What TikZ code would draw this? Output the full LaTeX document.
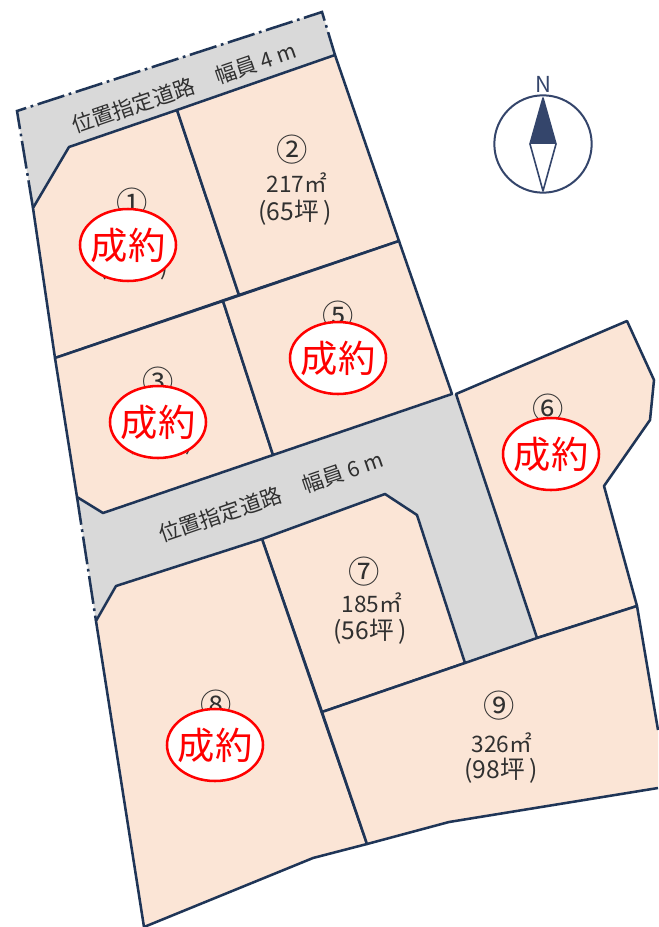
\documentclass[tikz,border=0pt]{standalone}
\usepackage{fontspec}
\setmainfont{Noto Sans CJK JP}
\definecolor{lotfill}{HTML}{FBE5D6}
\definecolor{roadfill}{HTML}{D9D9D9}
\definecolor{lineblue}{HTML}{1F3557}
\definecolor{compass}{HTML}{34456B}
\definecolor{txt}{HTML}{303030}
\usetikzlibrary{shapes.geometric}
\tikzset{
  lot/.style={fill=lotfill,draw=lineblue,line width=1.9pt,line join=round},
  road/.style={fill=roadfill,draw=none},
  edge/.style={draw=lineblue,line width=1.9pt,line join=round},
  roadedge/.style={draw=lineblue,line width=1.9pt,dash pattern=on 21pt off 3.5pt on 2pt off 3.5pt},
  lab/.style={text=txt,font=\fontsize{17pt}{20pt}\selectfont,inner sep=0pt},
  tsubo/.style={text=txt,font=\fontsize{18.5pt}{20pt}\selectfont,inner sep=0pt},
  num/.style={text=txt,font=\fontsize{23.5pt}{26pt}\selectfont,inner sep=0pt},
  roadlab/.style={text=txt,font=\fontsize{16pt}{18pt}\selectfont,inner sep=0pt},
  sold/.style={draw=red,line width=1.9pt,fill=white,ellipse,minimum width=72pt,minimum height=54pt,inner xsep=-6pt,inner ysep=-6pt,text=red,font=\fontsize{28pt}{30pt}\selectfont},
}
\begin{document}
\begin{tikzpicture}[x=0.75pt,y=-0.75pt]
\useasboundingbox (0,0) rectangle (658,927);
\fill[white] (0,0) rectangle (658,927);
% coordinates
\coordinate (tl) at (17,111);
\coordinate (tr) at (322,12);
\coordinate (a) at (335,55);
\coordinate (b) at (177,110);
\coordinate (c) at (69,147);
\coordinate (d) at (33,208);
\coordinate (e) at (399,241);
\coordinate (f) at (239,295);
\coordinate (g) at (55,358);
\coordinate (h) at (223,301);
\coordinate (i) at (452,394);
\coordinate (j) at (273,455);
\coordinate (k) at (103,513);
\coordinate (l) at (77,497);
\coordinate (m) at (537,638);
\coordinate (n) at (465,663);
\coordinate (o) at (417,515);
\coordinate (p) at (385,494);
\coordinate (q) at (262,539);
\coordinate (r) at (116,586);
\coordinate (s) at (96,621);
\coordinate (t) at (322,712);
\coordinate (u) at (367,844);
\coordinate (v) at (313,858);
\coordinate (w) at (144,927);
\coordinate (x1) at (456,394);
\coordinate (y1) at (627,321);
\coordinate (z1) at (654,380);
\coordinate (z2) at (650,420);
\coordinate (z3) at (604,486);
\coordinate (z4) at (637,606);
\coordinate (z5) at (658,730);
\coordinate (z6) at (658,788);
\coordinate (z7) at (449,822);
% roads
\path[road] (tl)--(tr)--(a)--(b)--(c)--(d)--cycle;
\path[road] (l)--(k)--(j)--(x1)--(m)--(n)--(o)--(p)--(q)--(r)--(s)--cycle;
% lots
\path[lot] (d)--(c)--(b)--(f)--(g)--cycle;
\path[lot] (b)--(a)--(e)--(f)--cycle;
\path[lot] (g)--(h)--(j)--(k)--(l)--cycle;
\path[lot] (h)--(e)--(i)--(j)--cycle;
\path[lot] (x1)--(y1)--(z1)--(z2)--(z3)--(z4)--(m)--cycle;
\path[lot] (q)--(p)--(o)--(n)--(t)--cycle;
\path[lot] (r)--(q)--(u)--(v)--(w)--(s)--cycle;
\fill[lotfill] (t)--(n)--(m)--(z4)--(z5)--(z6)--(z7)--(u)--cycle;
\draw[edge] (z6)--(z7)--(u)--(t)--(n)--(m)--(z4)--(z5);
% road outer borders
\draw[roadedge] (d)--(tl)--(tr)--(a);
\draw[roadedge] (l)--(s);
% labels
\node[roadlab,rotate=19] (road1) at (184,88) {位置指定道路\hspace{1.1em}幅員 4 m};
\node[roadlab,rotate=19] (road2) at (271,497) {位置指定道路\hspace{1.1em}幅員 6 m};
\node[num] (n1) at (132,203) {①};
\node[num] (n2) at (292,150) {②};
\node[num] (n3) at (158,382) {③};
\node[num] (n5) at (338,316) {⑤};
\node[num] (n6) at (548,409) {⑥};
\node[num] (n7) at (364,572) {⑦};
\node[num] (n8) at (216,705) {⑧};
\node[num] (n9) at (499,706) {⑨};
\node[lab] (a2) at (297,183) {217㎡};
\node[tsubo] (b2) at (295,213) {(65坪\,)};
\node[lab] (a7) at (372,603) {185㎡};
\node[tsubo] (b7) at (370,632) {(56坪\,)};
\node[lab] (a9) at (502,743) {326㎡};
\node[tsubo] (b9) at (501,771) {(98坪\,)};
\node[lab] (p1) at (134,268) {(\hspace{40pt})};
\node[lab] (p3) at (160,443) {(\hspace{38pt})};
% sold stamps
\node[sold] (s1) at (128,245) {成約};
\node[sold] (s3) at (158,422) {成約};
\node[sold] (s5) at (338,358) {成約};
\node[sold] (s6) at (551,454) {成約};
\node[sold] (s8) at (215,745) {成約};
% compass
\node[circle,draw=compass,line width=1.5pt,minimum size=73pt,inner sep=0pt] (cc) at (543,144) {};
\node[text=compass,font=\fontsize{16.5pt}{18pt}\selectfont,inner sep=0pt] (cn) at (543,84) {N};
\coordinate (ct) at (543,98);
\coordinate (cb) at (543,191);
\coordinate (cl) at (530,144);
\coordinate (cr) at (556,144);
\fill[compass] (ct)--(cr)--(cl)--cycle;
\draw[compass,line width=1.2pt,line join=round] (cl)--(cb)--(cr)--(ct)--cycle;
\end{tikzpicture}
\end{document}
